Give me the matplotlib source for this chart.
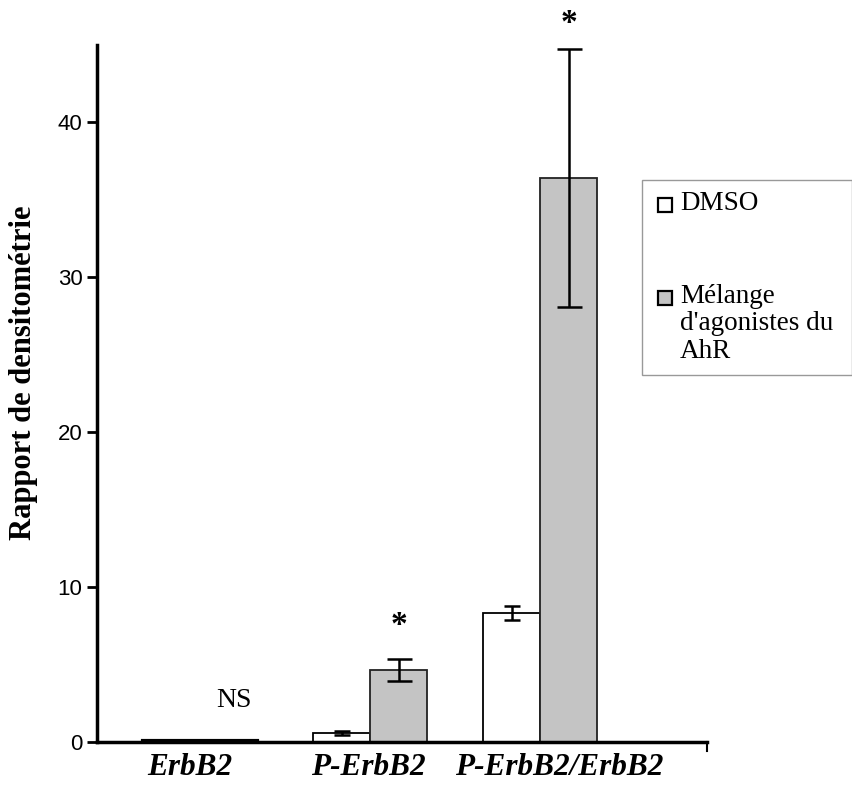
import matplotlib
matplotlib.use("Agg")
import matplotlib.pyplot as plt
import numpy as np
from matplotlib.patches import Rectangle

categories = ["ErbB2", "P-ErbB2", "P-ErbB2/ErbB2"]
dmso = [0.08, 0.6, 8.3]
dmso_err = [0.0, 0.12, 0.45]
agon = [0.08, 4.65, 36.4]
agon_err = [0.0, 0.72, 8.35]
annotations = ["NS", "*", "*"]
annot_y = [2.7, 7.5, 46.4]
yticks = [0, 10, 20, 30, 40]
legend_labels = ["DMSO", "Mélange\nd'agonistes du\nAhR"]

DMSO_COLOR = "white"
AGON_COLOR = "#c4c4c4"

fig = plt.figure(figsize=(8.53, 8.0), dpi=100)
ax = fig.add_axes([0.1137, 0.0725, 0.829 - 0.1137, 0.944 - 0.0725])

x = np.arange(len(categories))
w = 0.335
ax.bar(x - w / 2, dmso, w, color=DMSO_COLOR, edgecolor="black", linewidth=1.3,
       yerr=dmso_err, capsize=6, error_kw=dict(elinewidth=1.8, capthick=1.8, ecolor="black"))
ax.bar(x + w / 2, agon, w, color=AGON_COLOR, edgecolor="#222222", linewidth=1.3,
       yerr=agon_err, capsize=9, error_kw=dict(elinewidth=1.8, capthick=1.8, ecolor="black"))
ax.plot([x[0] - w, x[0] + w], [dmso[0], agon[0]], color="black", lw=3)

annot_x = [x[0] + 0.2, x[1] + w / 2, x[2] + w / 2]
for xi, yi, t in zip(annot_x, annot_y, annotations):
    if t == "*":
        ax.text(xi, yi, t, ha="center", va="center", fontsize=24, fontweight="bold",
                family="Liberation Serif", clip_on=False)
    else:
        ax.text(xi, yi, t, ha="center", va="center", fontsize=20,
                family="Liberation Serif", clip_on=False)

ax.set_xlim(-0.606, 2.98)
ax.set_ylim(0, 45)
ax.set_yticks(yticks)
ax.set_yticklabels([str(v) for v in yticks], fontsize=16, family="Liberation Sans")
label_offsets = [-0.06, -0.01, 0.11]
ax.set_xticks(x + np.array(label_offsets))
ax.set_xticklabels(categories, fontsize=22.5, family="Liberation Serif",
                   fontweight="bold", style="italic")
ax.tick_params(axis="x", length=0, pad=8)
ax.tick_params(axis="y", length=7, width=2, direction="out")
ax.set_ylabel("Rapport de densitométrie", fontsize=22, family="Liberation Serif",
              fontweight="bold")
ax.yaxis.set_label_coords(-0.097, 0.53)

for s in ["top", "right"]:
    ax.spines[s].set_visible(False)
ax.spines["left"].set_linewidth(2.5)
ax.spines["bottom"].set_linewidth(2.5)
ax.plot([2.98, 2.98], [0, -0.6], color="black", lw=1.5, clip_on=False)

# manual legend (figure pixel layout)
W, H = 853.0, 800.0
def fx(px): return px / W
def fy(py): return 1 - py / H
fig.patches.append(Rectangle((fx(642), fy(375)), fx(852) - fx(642), fy(180) - fy(375),
                             transform=fig.transFigure, facecolor="white",
                             edgecolor="#999999", linewidth=1.0))
entries = [(DMSO_COLOR, 205), (AGON_COLOR, 298)]
for (col, ty), lab in zip(entries, legend_labels):
    fig.patches.append(Rectangle((fx(658), fy(ty + 7)), fx(672) - fx(658), fy(ty - 7) - fy(ty + 7),
                                 transform=fig.transFigure, facecolor=col,
                                 edgecolor="black", linewidth=1.6))
    fig.text(fx(680), fy(ty - 14), lab, ha="left", va="top", fontsize=19.5,
             family="Liberation Serif", linespacing=1.12)

fig.savefig("out.png", dpi=100)
